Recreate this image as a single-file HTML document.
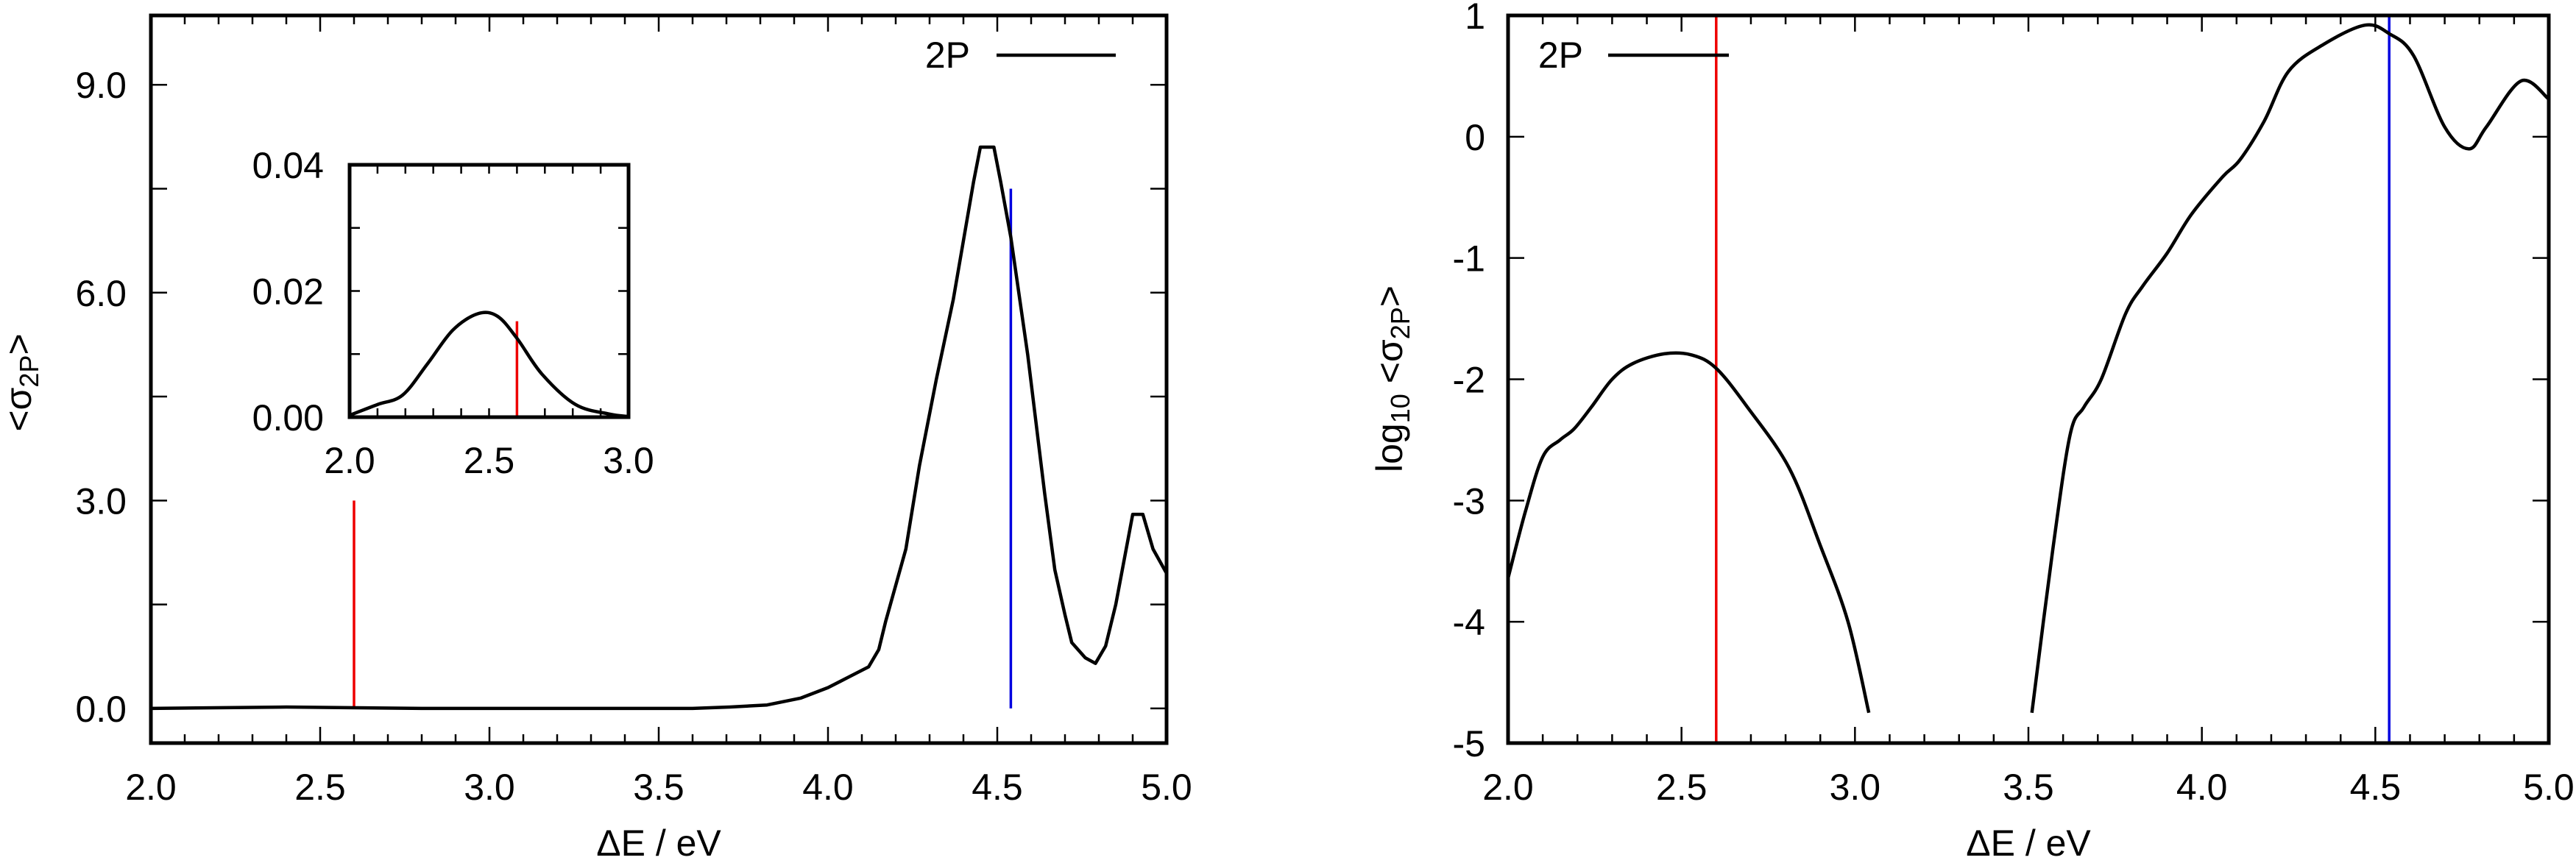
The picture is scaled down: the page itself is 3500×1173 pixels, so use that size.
<!DOCTYPE html>
<html><head><meta charset="utf-8"><style>
html,body{margin:0;padding:0;background:#fff}
svg{display:block}
text{font-family:"Liberation Sans",sans-serif;fill:#000}
</style></head><body>
<svg id="chart" width="3500" height="1173" viewBox="0 0 3500 1173" xmlns="http://www.w3.org/2000/svg">
<g id="left"></g>
<g id="inset"></g>
<g id="right"></g>
</svg>
<script>
// ---- data ----
const mainX = [2.0,2.4,2.8,3.6,3.71,3.82,3.92,4.0,4.06,4.12,4.15,4.17,4.23,4.27,4.32,4.37,4.43,4.45,4.49,4.51,4.54,4.59,4.64,4.67,4.70,4.72,4.76,4.79,4.82,4.85,4.90,4.93,4.96,5.0];
const mainY = [0.0,0.02,0.0,0.0,0.02,0.05,0.15,0.3,0.45,0.6,0.85,1.25,2.3,3.5,4.75,5.9,7.6,8.1,8.1,7.6,6.8,5.1,3.1,2.0,1.35,0.95,0.73,0.65,0.9,1.5,2.8,2.8,2.3,1.95];
const insetX = [2.0,2.1,2.19,2.28,2.37,2.46,2.53,2.6,2.69,2.81,2.93,3.0];
const insetY = [0.0003,0.002,0.0035,0.0085,0.0138,0.0164,0.016,0.0125,0.0068,0.002,0.0005,0.0001];
const logX1 = [2.0,2.05,2.10,2.15,2.19,2.24,2.30,2.36,2.45,2.53,2.60,2.69,2.81,2.90,2.98,3.04];
const logY1 = [-3.64,-3.09,-2.64,-2.50,-2.41,-2.23,-2.0,-1.87,-1.79,-1.80,-1.91,-2.23,-2.73,-3.37,-4.0,-4.75];
const logX2 = [3.51,3.57,3.62,3.66,3.71,3.78,3.83,3.90,3.97,4.06,4.11,4.18,4.25,4.35,4.47,4.54,4.61,4.70,4.77,4.82,4.92,5.0];
const logY2 = [-4.75,-3.41,-2.46,-2.23,-2.0,-1.46,-1.23,-0.96,-0.64,-0.33,-0.19,0.13,0.54,0.76,0.92,0.85,0.67,0.08,-0.10,0.08,0.46,0.31];
const stickRedX = 2.6, stickRedY = 3.0, stickBlueX = 4.54, stickBlueY = 7.5;
const insetRedY = 0.0152;
const xTicks = ["2.0","2.5","3.0","3.5","4.0","4.5","5.0"];
const leftYTicks = ["0.0","3.0","6.0","9.0"];
const insetYTicks = ["0.00","0.02","0.04"];
const insetXTicks = ["2.0","2.5","3.0"];
const rightYTicks = ["-5","-4","-3","-2","-1","0","1"];

const NS="http://www.w3.org/2000/svg";
function mk(parent,tag,attrs){const e=document.createElementNS(NS,tag);for(const k in attrs)e.setAttribute(k,attrs[k]);parent.appendChild(e);return e;}
function scale(d0,d1,r0,r1){return v=>r0+(v-d0)/(d1-d0)*(r1-r0);}
function linePath(xs,ys,sx,sy){return xs.map((x,i)=>(i?"L":"M")+sx(x)+","+sy(ys[i])).join(" ");}
function smoothPath(xs,ys,sx,sy){
  const p=xs.map((x,i)=>[sx(x),sy(ys[i])]);
  let d="M"+p[0][0]+","+p[0][1];
  for(let i=0;i<p.length-1;i++){
    const p0=p[Math.max(0,i-1)],p1=p[i],p2=p[i+1],p3=p[Math.min(p.length-1,i+2)];
    const c1=[p1[0]+(p2[0]-p0[0])/6,p1[1]+(p2[1]-p0[1])/6];
    const c2=[p2[0]-(p3[0]-p1[0])/6,p2[1]-(p3[1]-p1[1])/6];
    d+=" C"+c1[0]+","+c1[1]+" "+c2[0]+","+c2[1]+" "+p2[0]+","+p2[1];
  }
  return d;
}
function frame(g,x0,y0,x1,y1,w){
  const r=mk(g,"rect",{x:x0,y:y0,width:x1-x0,height:y1-y0,fill:"none",stroke:"#000","stroke-width":w});
  
  
}
function xMinorTicks(g,sx,y0,y1,lo,hi,step,maj,minL,majL){
  const n=Math.round((hi-lo)/step);
  for(let i=0;i<=n;i++){
    const v=lo+i*step,x=sx(v);const isMaj=(i%maj===0);const L=isMaj?majL:minL;
    mk(g,"line",{x1:x,y1:y1,x2:x,y2:y1-L,stroke:"#000","stroke-width":2.5});
    mk(g,"line",{x1:x,y1:y0,x2:x,y2:y0+L,stroke:"#000","stroke-width":2.5});
  }
}
function yTicks(g,sy,x0,x1,vals,L){
  vals.forEach(v=>{const y=sy(v);
    mk(g,"line",{x1:x0,y1:y,x2:x0+L,y2:y,stroke:"#000","stroke-width":2.5});
    mk(g,"line",{x1:x1,y1:y,x2:x1-L,y2:y,stroke:"#000","stroke-width":2.5});});
}
function label(g,x,y,txt,anchor,size,name){
  const t=mk(g,"text",{x:x,y:y,"text-anchor":anchor,"font-size":size});
  t.textContent=txt;
  
  
  return t;
}

// ---- left panel ----
(function(){
  const g=document.getElementById("left");
  const X0=205,X1=1585,Y0=21,Y1=1010;
  const sx=scale(2,5,X0,X1), sy=scale(-0.5,10,Y1,Y0);
  xMinorTicks(g,sx,Y0,Y1,2,5,0.1,5,12,22);
  const yt=[];for(let v=0;v<=9.01;v+=1.5)yt.push(v);
  yTicks(g,sy,X0,X1,yt,22);
  xTicks.forEach(t=>label(g,sx(+t),1087,t,"middle",50,"x-tick-label"));
  leftYTicks.forEach(t=>label(g,172,sy(+t)+18,t,"end",50,"y-tick-label"));
  label(g,895,1163,"ΔE / eV","middle",50,"x-axis-title");
  const yl=mk(g,"text",{x:0,y:0,"text-anchor":"middle","font-size":50,transform:"translate(42,520) rotate(-90)"});
  yl.innerHTML='&lt;σ<tspan font-size="36" dy="10">2P</tspan><tspan dy="-10">&gt;</tspan>';
  
  
  const red=mk(g,"line",{x1:sx(stickRedX),y1:sy(0),x2:sx(stickRedX),y2:sy(stickRedY),stroke:"#e00","stroke-width":3.5});
  
  
  const blue=mk(g,"line",{x1:sx(stickBlueX),y1:sy(0),x2:sx(stickBlueX),y2:sy(stickBlueY),stroke:"#0000e0","stroke-width":3.5});
  
  
  const c=mk(g,"path",{d:linePath(mainX,mainY,sx,sy),fill:"none",stroke:"#000","stroke-width":4.5,"stroke-linejoin":"round"});
  
  
  label(g,1318,92,"2P","end",50,"legend-label");
  const ll=mk(g,"line",{x1:1354,y1:75,x2:1516,y2:75,stroke:"#000","stroke-width":4.5});
  
  
  frame(g,X0,Y0,X1,Y1,5);
})();

// ---- inset ----
(function(){
  const g=document.getElementById("inset");
  const X0=475,X1=854,Y0=224,Y1=567;
  const sx=scale(2,3,X0,X1), sy=scale(0,0.04,Y1,Y0);
  mk(g,"rect",{x:X0,y:Y0,width:X1-X0,height:Y1-Y0,fill:"#fff"});
  xMinorTicks(g,sx,Y0,Y1,2,3,0.1,5,12,12);
  yTicks(g,sy,X0,X1,[0,0.01,0.02,0.03,0.04],14);
  insetXTicks.forEach(t=>label(g,sx(+t),643,t,"middle",50,"inset-x-tick-label"));
  insetYTicks.forEach(t=>label(g,440,sy(+t)+18,t,"end",50,"inset-y-tick-label"));
  const red=mk(g,"line",{x1:sx(stickRedX),y1:sy(0),x2:sx(stickRedX),y2:sy(insetRedY),stroke:"#e00","stroke-width":3.5});
  
  
  const c=mk(g,"path",{d:smoothPath(insetX,insetY,sx,sy),fill:"none",stroke:"#000","stroke-width":4.5});
  
  
  frame(g,X0,Y0,X1,Y1,5);
})();

// ---- right panel ----
(function(){
  const g=document.getElementById("right");
  const X0=2049,X1=3463,Y0=21,Y1=1010;
  const sx=scale(2,5,X0,X1), sy=scale(-5,1,Y1,Y0);
  xMinorTicks(g,sx,Y0,Y1,2,5,0.1,5,12,22);
  yTicks(g,sy,X0,X1,rightYTicks.map(Number),22);
  xTicks.forEach(t=>label(g,sx(+t),1087,t,"middle",50,"x-tick-label"));
  rightYTicks.forEach(t=>label(g,2018,sy(+t)+18,t,"end",50,"y-tick-label"));
  label(g,2756,1163,"ΔE / eV","middle",50,"x-axis-title");
  const yl=mk(g,"text",{x:0,y:0,"text-anchor":"middle","font-size":50,transform:"translate(1905,515) rotate(-90)"});
  yl.innerHTML='log<tspan font-size="36" dy="10">10</tspan><tspan dy="-10"> &lt;σ</tspan><tspan font-size="36" dy="10">2P</tspan><tspan dy="-10">&gt;</tspan>';
  
  
  const red=mk(g,"line",{x1:sx(stickRedX),y1:Y1,x2:sx(stickRedX),y2:Y0,stroke:"#e00","stroke-width":3.5});
  
  
  const blue=mk(g,"line",{x1:sx(stickBlueX),y1:Y1,x2:sx(stickBlueX),y2:Y0,stroke:"#0000e0","stroke-width":3.5});
  
  
  const c1=mk(g,"path",{d:smoothPath(logX1,logY1,sx,sy),fill:"none",stroke:"#000","stroke-width":4.5});
  
  
  const c2=mk(g,"path",{d:smoothPath(logX2,logY2,sx,sy),fill:"none",stroke:"#000","stroke-width":4.5});
  
  
  label(g,2151,92,"2P","end",50,"legend-label");
  const ll=mk(g,"line",{x1:2185,y1:75,x2:2349,y2:75,stroke:"#000","stroke-width":4.5});
  
  
  frame(g,X0,Y0,X1,Y1,5);
})();
</script>
</body></html>
